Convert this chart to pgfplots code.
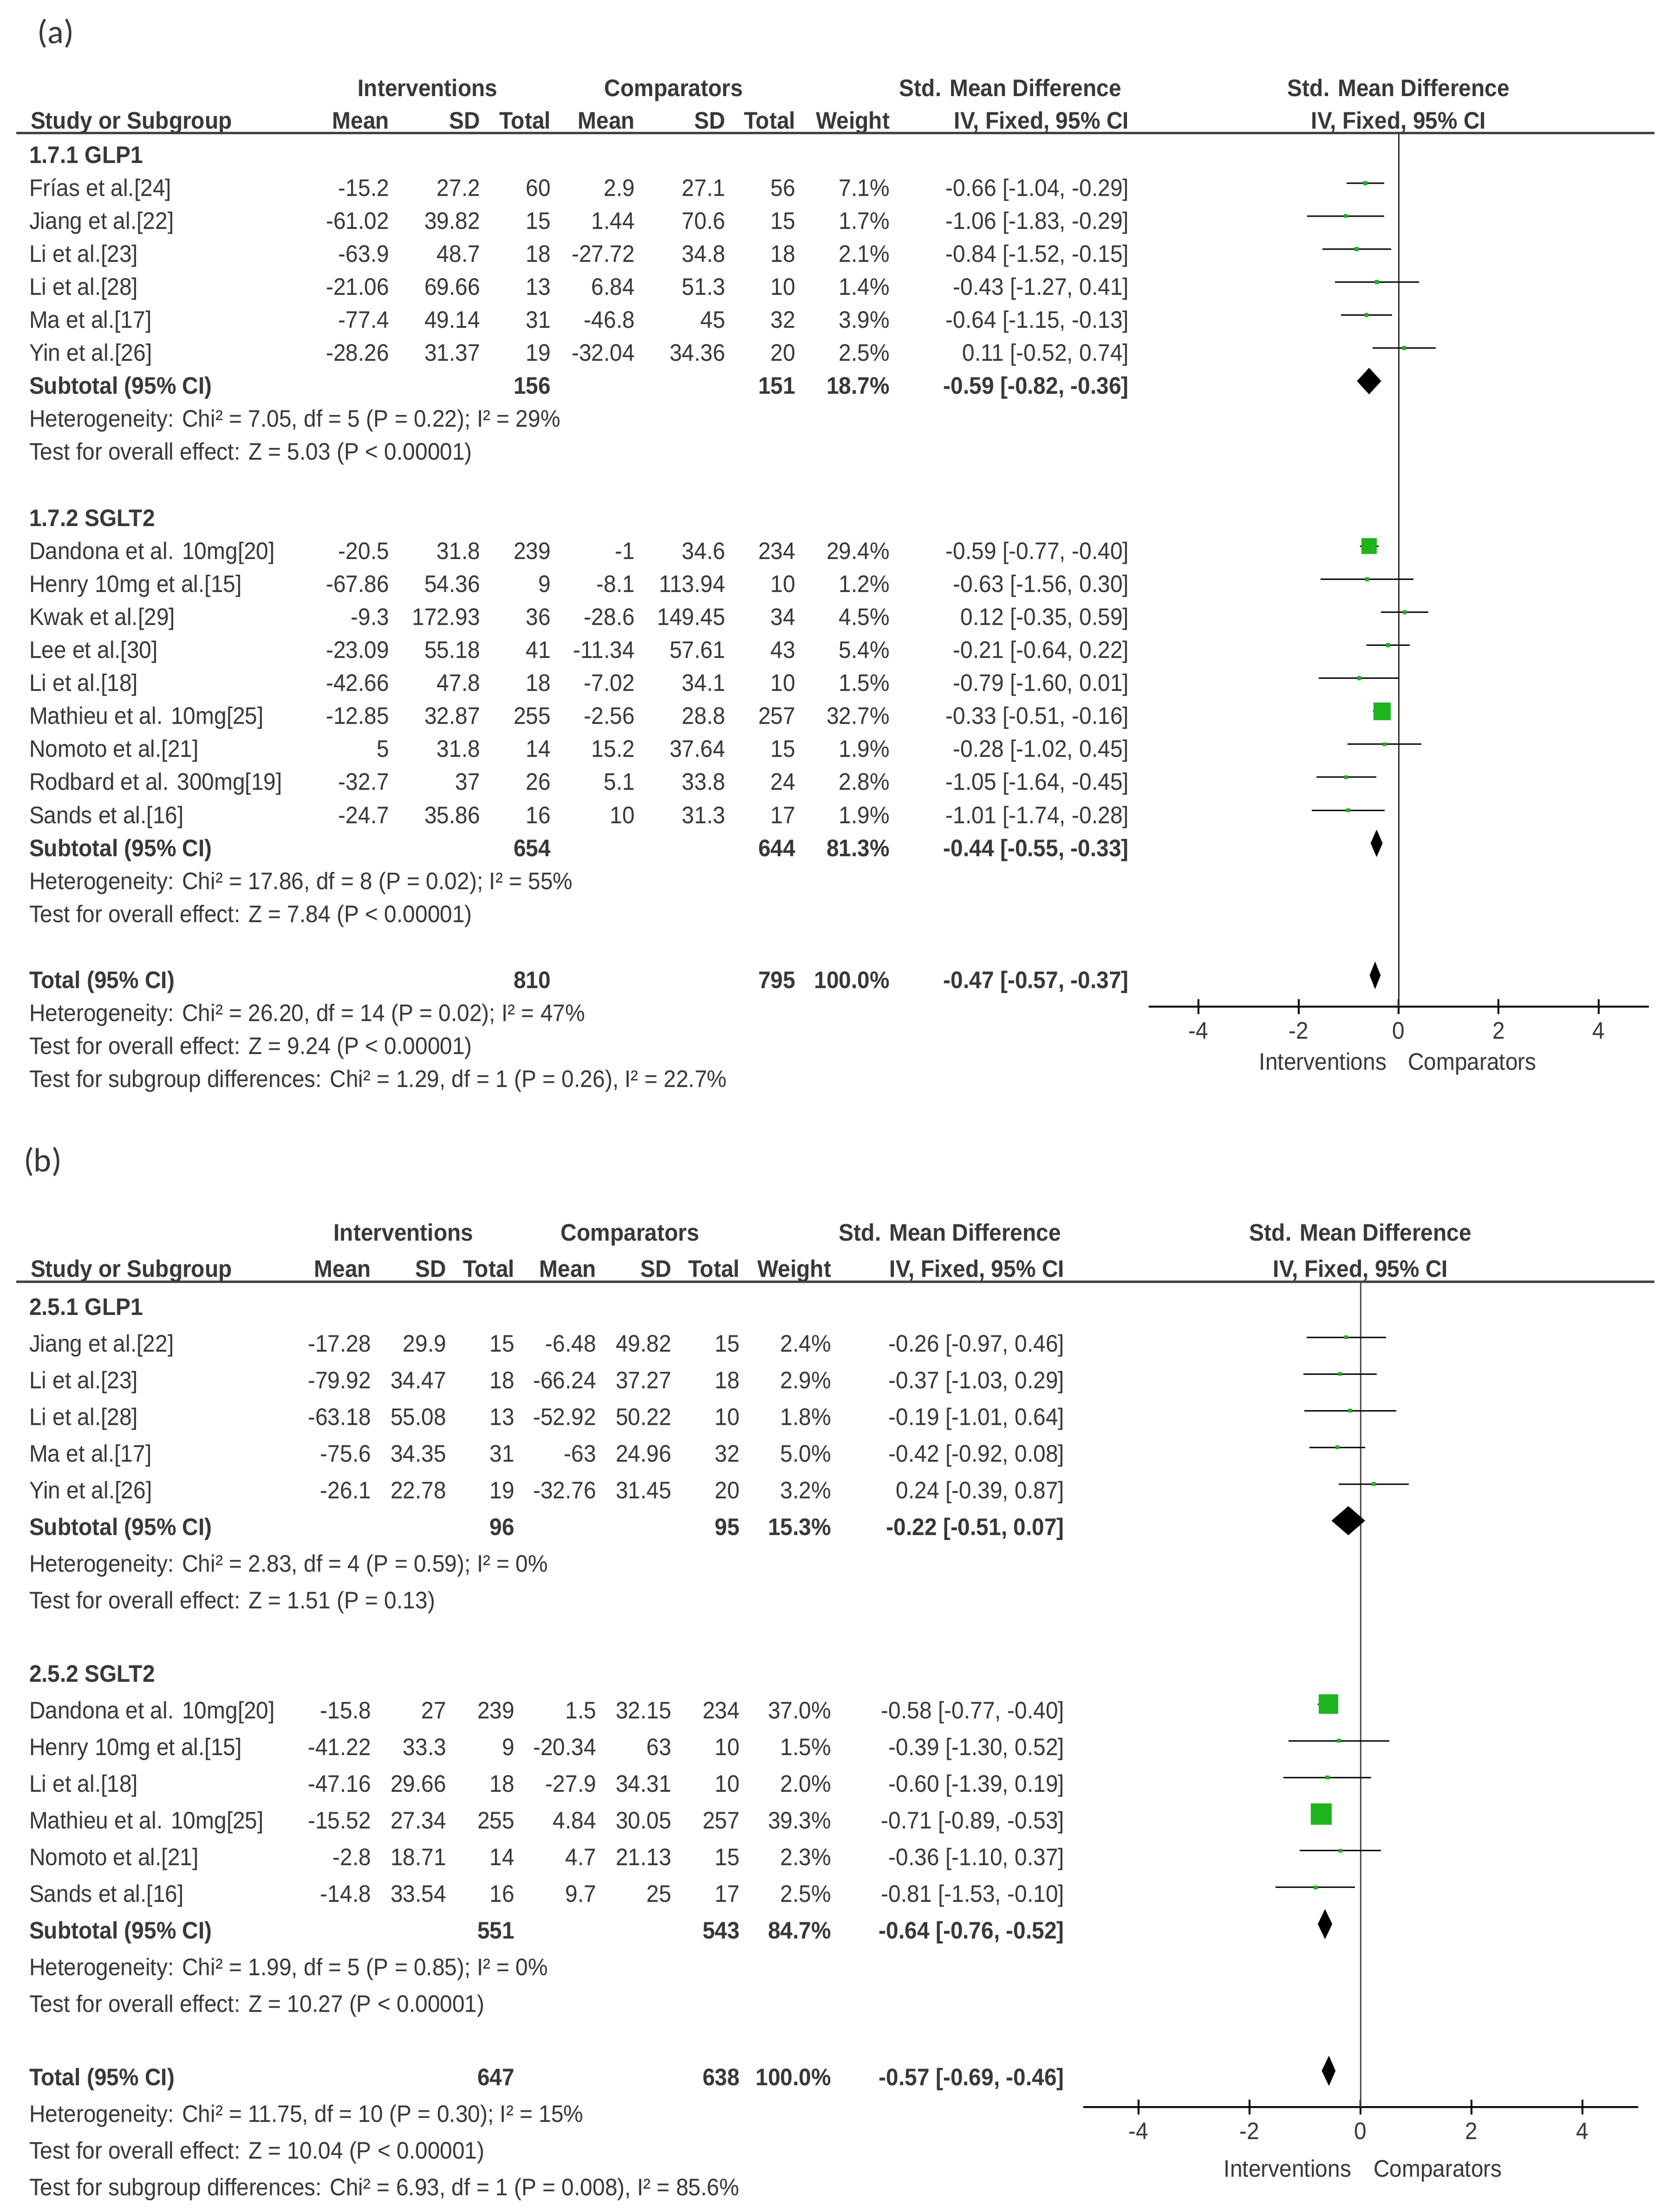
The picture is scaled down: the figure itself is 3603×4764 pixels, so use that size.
\documentclass[border=0pt]{standalone}
\usepackage{fontspec}
\setmainfont{Liberation Sans}[FakeStretch=0.93]
\newfontfamily\lblfont{Carlito}
\usepackage{pgfplots}
\usepackage{pgfplotstable}
\pgfplotsset{compat=1.18}

\definecolor{txt}{HTML}{383838}
\definecolor{mkgreen}{RGB}{30,180,30}
\newcommand\tf{\fontsize{10.3}{12}\selectfont}

% forest data: row, estimate, lower, upper, weight
\pgfplotstableread{
k est lo hi w
1 -0.66 -1.04 -0.29 7.1
2 -1.06 -1.83 -0.29 1.7
3 -0.84 -1.52 -0.15 2.1
4 -0.43 -1.27 0.41 1.4
5 -0.64 -1.15 -0.13 3.9
6 0.11 -0.52 0.74 2.5
12 -0.59 -0.77 -0.40 29.4
13 -0.63 -1.56 0.30 1.2
14 0.12 -0.35 0.59 4.5
15 -0.21 -0.64 0.22 5.4
16 -0.79 -1.60 0.01 1.5
17 -0.33 -0.51 -0.16 32.7
18 -0.28 -1.02 0.45 1.9
19 -1.05 -1.64 -0.45 2.8
20 -1.01 -1.74 -0.28 1.9
}\studiesA

\pgfplotstableread{
k est lo hi w
1 -0.26 -0.97 0.46 2.4
2 -0.37 -1.03 0.29 2.9
3 -0.19 -1.01 0.64 1.8
4 -0.42 -0.92 0.08 5.0
5 0.24 -0.39 0.87 3.2
11 -0.58 -0.77 -0.40 37.0
12 -0.39 -1.30 0.52 1.5
13 -0.60 -1.39 0.19 2.0
14 -0.71 -0.89 -0.53 39.3
15 -0.36 -1.10 0.37 2.3
16 -0.81 -1.53 -0.10 2.5
}\studiesB

\newcommand\cols[8]{\def\xM{#1}\def\xS{#2}\def\xN{#3}\def\xMc{#4}\def\xSc{#5}\def\xNc{#6}\def\xW{#7}\def\xCI{#8}}
\def\xName{62}
\newcommand\lrow[5]{%
  \node[anchor=base west] at (\xName,{\yBase+\yStep*(#1)}) {#2};
  \node[anchor=base east] at (\xM,{\yBase+\yStep*(#1)}) {#3};
  \node[anchor=base east] at (\xS,{\yBase+\yStep*(#1)}) {#4};
  \node[anchor=base east] at (\xN,{\yBase+\yStep*(#1)}) {#5};}
\newcommand\rrow[6]{%
  \node[anchor=base east] at (\xMc,{\yBase+\yStep*(#1)}) {#2};
  \node[anchor=base east] at (\xSc,{\yBase+\yStep*(#1)}) {#3};
  \node[anchor=base east] at (\xNc,{\yBase+\yStep*(#1)}) {#4};
  \node[anchor=base east] at (\xW,{\yBase+\yStep*(#1)}) {#5};
  \node[anchor=base east] at (\xCI,{\yBase+\yStep*(#1)}) {#6};}
\newcommand\note[2]{\node[anchor=base west] at (\xName,{\yBase+\yStep*(#1)}) {#2};}

\pgfplotsset{forest/.style={
  anchor=south west, scale only axis,
  xmin=-5, xmax=5,
  axis x line=bottom, axis y line=none,
  axis line style={-, line width=0.8pt, black},
  xtick={-4,-2,0,2,4}, xticklabels={-4,-2,0,2,4},
  tick align=center, major tick length=6.4pt,
  every tick/.style={black, line width=0.8pt},
  xticklabel style={font=\tf, text=txt},
  clip=false},
  squares/.style={scatter, only marks, mark=square*, point meta=\thisrow{w},
    mark options={draw=mkgreen, fill=mkgreen, line width=0.2pt},
    scatter/use mapped color={draw=mkgreen, fill=mkgreen},
    visualization depends on={max(0.75,0.112*\thisrow{w}) \as \msz},
    scatter/@pre marker code/.append style={/tikz/mark size=\msz}},
  cilines/.style={draw=none, mark=none, error bars/.cd, x dir=both, x explicit, error mark=none,
    error bar style={draw=black, solid, line width=0.6pt}}}

\begin{document}
\begin{tikzpicture}
\begin{scope}[x=0.2pt, y=-0.2pt, every node/.style={inner sep=0pt, font=\tf, text=txt}]
\path (0,0) rectangle (3603,4764);

%% ---------------- panel (a)
\node[anchor=base west, font=\lblfont\fontsize{14.5}{16}\selectfont] at (80,93) {(a)};
\node[anchor=base] at (921,207) {\bfseries Interventions};
\node[anchor=base] at (1451,207) {\bfseries Comparators};
\node[anchor=base] at (2176,207) {\bfseries Std. Mean Difference};
\node[anchor=base] at (3012,207) {\bfseries Std. Mean Difference};
\node[anchor=base west] at (65,277) {\bfseries Study or Subgroup};
\node[anchor=base east] at (839,277) {\bfseries Mean};
\node[anchor=base east] at (1035,277) {\bfseries SD};
\node[anchor=base east] at (1187,277) {\bfseries Total};
\node[anchor=base east] at (1368,277) {\bfseries Mean};
\node[anchor=base east] at (1563,277) {\bfseries SD};
\node[anchor=base east] at (1714,277) {\bfseries Total};
\node[anchor=base east] at (1917,277) {\bfseries Weight};
\node[anchor=base east] at (2432,277) {\bfseries IV, Fixed, 95\% CI};
\node[anchor=base] at (3012,277) {\bfseries IV, Fixed, 95\% CI};
\draw[line width=1pt, black!75] (35,286) -- (3563,286);

\def\yBase{351}\def\yStep{71.1}
\cols{839}{1035}{1187}{1368}{1563}{1714}{1917}{2432}
\note{0}{\bfseries 1.7.1 GLP1}
\lrow{1}{Frías et al.[24]}{-15.2}{27.2}{60}\rrow{1}{2.9}{27.1}{56}{7.1\%}{-0.66 [-1.04, -0.29]}
\lrow{2}{Jiang et al.[22]}{-61.02}{39.82}{15}\rrow{2}{1.44}{70.6}{15}{1.7\%}{-1.06 [-1.83, -0.29]}
\lrow{3}{Li et al.[23]}{-63.9}{48.7}{18}\rrow{3}{-27.72}{34.8}{18}{2.1\%}{-0.84 [-1.52, -0.15]}
\lrow{4}{Li et al.[28]}{-21.06}{69.66}{13}\rrow{4}{6.84}{51.3}{10}{1.4\%}{-0.43 [-1.27, 0.41]}
\lrow{5}{Ma et al.[17]}{-77.4}{49.14}{31}\rrow{5}{-46.8}{45}{32}{3.9\%}{-0.64 [-1.15, -0.13]}
\lrow{6}{Yin et al.[26]}{-28.26}{31.37}{19}\rrow{6}{-32.04}{34.36}{20}{2.5\%}{0.11 [-0.52, 0.74]}
\lrow{7}{\bfseries Subtotal (95\% CI)}{}{}{\bfseries 156}\rrow{7}{}{}{\bfseries 151}{\bfseries 18.7\%}{\bfseries -0.59 [-0.82, -0.36]}
\note{8}{Heterogeneity: Chi² = 7.05, df = 5 (P = 0.22); I² = 29\%}
\note{9}{Test for overall effect: Z = 5.03 (P < 0.00001)}
\note{11}{\bfseries 1.7.2 SGLT2}
\lrow{12}{Dandona et al. 10mg[20]}{-20.5}{31.8}{239}\rrow{12}{-1}{34.6}{234}{29.4\%}{-0.59 [-0.77, -0.40]}
\lrow{13}{Henry 10mg et al.[15]}{-67.86}{54.36}{9}\rrow{13}{-8.1}{113.94}{10}{1.2\%}{-0.63 [-1.56, 0.30]}
\lrow{14}{Kwak et al.[29]}{-9.3}{172.93}{36}\rrow{14}{-28.6}{149.45}{34}{4.5\%}{0.12 [-0.35, 0.59]}
\lrow{15}{Lee et al.[30]}{-23.09}{55.18}{41}\rrow{15}{-11.34}{57.61}{43}{5.4\%}{-0.21 [-0.64, 0.22]}
\lrow{16}{Li et al.[18]}{-42.66}{47.8}{18}\rrow{16}{-7.02}{34.1}{10}{1.5\%}{-0.79 [-1.60, 0.01]}
\lrow{17}{Mathieu et al. 10mg[25]}{-12.85}{32.87}{255}\rrow{17}{-2.56}{28.8}{257}{32.7\%}{-0.33 [-0.51, -0.16]}
\lrow{18}{Nomoto et al.[21]}{5}{31.8}{14}\rrow{18}{15.2}{37.64}{15}{1.9\%}{-0.28 [-1.02, 0.45]}
\lrow{19}{Rodbard et al. 300mg[19]}{-32.7}{37}{26}\rrow{19}{5.1}{33.8}{24}{2.8\%}{-1.05 [-1.64, -0.45]}
\lrow{20}{Sands et al.[16]}{-24.7}{35.86}{16}\rrow{20}{10}{31.3}{17}{1.9\%}{-1.01 [-1.74, -0.28]}
\lrow{21}{\bfseries Subtotal (95\% CI)}{}{}{\bfseries 654}\rrow{21}{}{}{\bfseries 644}{\bfseries 81.3\%}{\bfseries -0.44 [-0.55, -0.33]}
\note{22}{Heterogeneity: Chi² = 17.86, df = 8 (P = 0.02); I² = 55\%}
\note{23}{Test for overall effect: Z = 7.84 (P < 0.00001)}
\lrow{25}{\bfseries Total (95\% CI)}{}{}{\bfseries 810}\rrow{25}{}{}{\bfseries 795}{\bfseries 100.0\%}{\bfseries -0.47 [-0.57, -0.37]}
\note{26}{Heterogeneity: Chi² = 26.20, df = 14 (P = 0.02); I² = 47\%}
\note{27}{Test for overall effect: Z = 9.24 (P < 0.00001)}
\note{28}{Test for subgroup differences: Chi² = 1.29, df = 1 (P = 0.26), I² = 22.7\%}
\node[anchor=base east] at (2987,2304) {Interventions};
\node[anchor=base west] at (3031,2304) {Comparators};

%% ---------------- panel (b)
\node[anchor=base west, font=\lblfont\fontsize{14.5}{16}\selectfont] at (50,2523) {(b)};
\node[anchor=base] at (869,2672) {\bfseries Interventions};
\node[anchor=base] at (1357,2672) {\bfseries Comparators};
\node[anchor=base] at (2046,2672) {\bfseries Std. Mean Difference};
\node[anchor=base] at (2930,2672) {\bfseries Std. Mean Difference};
\node[anchor=base west] at (65,2750) {\bfseries Study or Subgroup};
\node[anchor=base east] at (800,2750) {\bfseries Mean};
\node[anchor=base east] at (962,2750) {\bfseries SD};
\node[anchor=base east] at (1109,2750) {\bfseries Total};
\node[anchor=base east] at (1285,2750) {\bfseries Mean};
\node[anchor=base east] at (1447,2750) {\bfseries SD};
\node[anchor=base east] at (1594,2750) {\bfseries Total};
\node[anchor=base east] at (1791,2750) {\bfseries Weight};
\node[anchor=base east] at (2293,2750) {\bfseries IV, Fixed, 95\% CI};
\node[anchor=base] at (2930,2750) {\bfseries IV, Fixed, 95\% CI};
\draw[line width=1pt, black!75] (35,2760) -- (3563,2760);

\def\yBase{2832}\def\yStep{79}
\cols{800}{962}{1109}{1285}{1447}{1594}{1791}{2293}
\note{0}{\bfseries 2.5.1 GLP1}
\lrow{1}{Jiang et al.[22]}{-17.28}{29.9}{15}\rrow{1}{-6.48}{49.82}{15}{2.4\%}{-0.26 [-0.97, 0.46]}
\lrow{2}{Li et al.[23]}{-79.92}{34.47}{18}\rrow{2}{-66.24}{37.27}{18}{2.9\%}{-0.37 [-1.03, 0.29]}
\lrow{3}{Li et al.[28]}{-63.18}{55.08}{13}\rrow{3}{-52.92}{50.22}{10}{1.8\%}{-0.19 [-1.01, 0.64]}
\lrow{4}{Ma et al.[17]}{-75.6}{34.35}{31}\rrow{4}{-63}{24.96}{32}{5.0\%}{-0.42 [-0.92, 0.08]}
\lrow{5}{Yin et al.[26]}{-26.1}{22.78}{19}\rrow{5}{-32.76}{31.45}{20}{3.2\%}{0.24 [-0.39, 0.87]}
\lrow{6}{\bfseries Subtotal (95\% CI)}{}{}{\bfseries 96}\rrow{6}{}{}{\bfseries 95}{\bfseries 15.3\%}{\bfseries -0.22 [-0.51, 0.07]}
\note{7}{Heterogeneity: Chi² = 2.83, df = 4 (P = 0.59); I² = 0\%}
\note{8}{Test for overall effect: Z = 1.51 (P = 0.13)}
\note{10}{\bfseries 2.5.2 SGLT2}
\lrow{11}{Dandona et al. 10mg[20]}{-15.8}{27}{239}\rrow{11}{1.5}{32.15}{234}{37.0\%}{-0.58 [-0.77, -0.40]}
\lrow{12}{Henry 10mg et al.[15]}{-41.22}{33.3}{9}\rrow{12}{-20.34}{63}{10}{1.5\%}{-0.39 [-1.30, 0.52]}
\lrow{13}{Li et al.[18]}{-47.16}{29.66}{18}\rrow{13}{-27.9}{34.31}{10}{2.0\%}{-0.60 [-1.39, 0.19]}
\lrow{14}{Mathieu et al. 10mg[25]}{-15.52}{27.34}{255}\rrow{14}{4.84}{30.05}{257}{39.3\%}{-0.71 [-0.89, -0.53]}
\lrow{15}{Nomoto et al.[21]}{-2.8}{18.71}{14}\rrow{15}{4.7}{21.13}{15}{2.3\%}{-0.36 [-1.10, 0.37]}
\lrow{16}{Sands et al.[16]}{-14.8}{33.54}{16}\rrow{16}{9.7}{25}{17}{2.5\%}{-0.81 [-1.53, -0.10]}
\lrow{17}{\bfseries Subtotal (95\% CI)}{}{}{\bfseries 551}\rrow{17}{}{}{\bfseries 543}{\bfseries 84.7\%}{\bfseries -0.64 [-0.76, -0.52]}
\note{18}{Heterogeneity: Chi² = 1.99, df = 5 (P = 0.85); I² = 0\%}
\note{19}{Test for overall effect: Z = 10.27 (P < 0.00001)}
\lrow{21}{\bfseries Total (95\% CI)}{}{}{\bfseries 647}\rrow{21}{}{}{\bfseries 638}{\bfseries 100.0\%}{\bfseries -0.57 [-0.69, -0.46]}
\note{22}{Heterogeneity: Chi² = 11.75, df = 10 (P = 0.30); I² = 15\%}
\note{23}{Test for overall effect: Z = 10.04 (P < 0.00001)}
\note{24}{Test for subgroup differences: Chi² = 6.93, df = 1 (P = 0.008), I² = 85.6\%}
\node[anchor=base east] at (2911,4688) {Interventions};
\node[anchor=base west] at (2957,4688) {Comparators};
\end{scope}

%% forest plot (a)
\begin{axis}[forest, at={(494.7pt,-433.6pt)}, width=215.4pt, height=376.4pt,
  ymin=-25.95, ymax=0.52]
  \addplot[black!80, line width=0.6pt] coordinates {(0,-25.95) (0,0.52)};
  \addplot[cilines]
    table[x=est, y expr=-\thisrow{k}, x error plus expr=\thisrow{hi}-\thisrow{est},
      x error minus expr=\thisrow{est}-\thisrow{lo}] {\studiesA};
  \addplot[squares] table[x=est, y expr=-\thisrow{k}] {\studiesA};
  \addplot[fill=black, draw=black] coordinates {(-0.82,-7) (-0.59,-6.62) (-0.36,-7) (-0.59,-7.38)} -- cycle;
  \addplot[fill=black, draw=black] coordinates {(-0.55,-21) (-0.44,-20.62) (-0.33,-21) (-0.44,-21.38)} -- cycle;
  \addplot[fill=black, draw=black] coordinates {(-0.57,-25) (-0.47,-24.62) (-0.37,-25) (-0.47,-25.38)} -- cycle;
\end{axis}

%% forest plot (b)
\begin{axis}[forest, at={(466.5pt,-907.6pt)}, width=239pt, height=355.6pt,
  ymin=-21.99, ymax=0.52]
  \addplot[black!70, line width=0.6pt] coordinates {(0,-21.99) (0,0.52)};
  \addplot[cilines]
    table[x=est, y expr=-\thisrow{k}, x error plus expr=\thisrow{hi}-\thisrow{est},
      x error minus expr=\thisrow{est}-\thisrow{lo}] {\studiesB};
  \addplot[squares] table[x=est, y expr=-\thisrow{k}] {\studiesB};
  \addplot[fill=black, draw=black] coordinates {(-0.51,-6) (-0.22,-5.62) (0.07,-6) (-0.22,-6.38)} -- cycle;
  \addplot[fill=black, draw=black] coordinates {(-0.76,-17) (-0.64,-16.62) (-0.52,-17) (-0.64,-17.38)} -- cycle;
  \addplot[fill=black, draw=black] coordinates {(-0.69,-21) (-0.57,-20.62) (-0.46,-21) (-0.57,-21.38)} -- cycle;
\end{axis}
\end{tikzpicture}
\end{document}
